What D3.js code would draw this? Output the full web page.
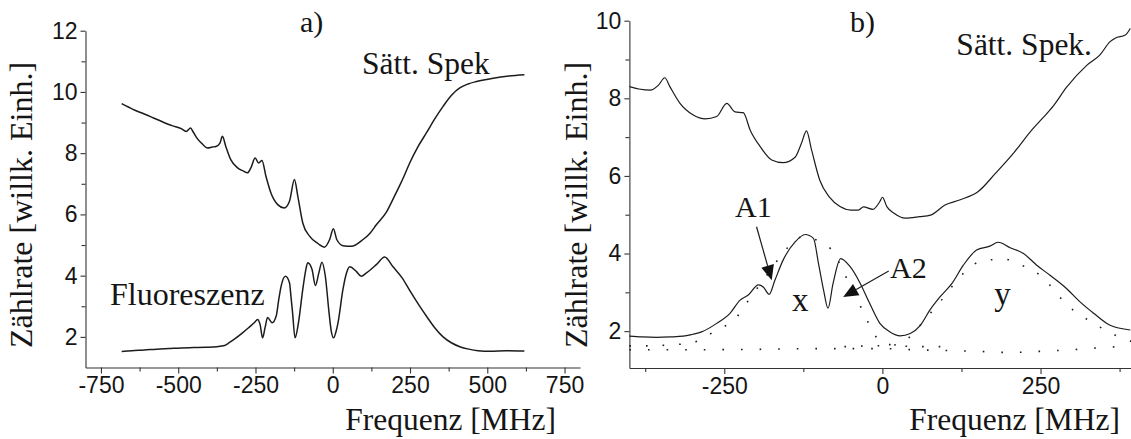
<!DOCTYPE html>
<html><head><meta charset="utf-8">
<script src="https://cdn.jsdelivr.net/npm/d3@7"></script>
<style>
body{margin:0;background:#fff}
svg text{fill:#151515}
.serif{font-family:"Liberation Serif","Times New Roman",serif}
.axis text{font-family:"Liberation Sans",Arial,sans-serif;font-size:23px;fill:#151515}
.axis path,.axis line{stroke:#333;stroke-width:1.1}
</style></head><body>
<svg id="fig" width="1131" height="439"></svg>
<script>
// ---- panel a): saturation spectrum and fluorescence, [MHz, counts] ----
const satA = [[-683,9.62],[-660,9.50],[-640,9.40],[-610,9.28],[-580,9.15],[-550,9.02],[-520,8.90],[-490,8.80],
  [-474,8.71],[-460,8.82],[-452,8.70],[-440,8.50],[-425,8.33],[-405,8.17],[-390,8.20],[-378,8.22],[-365,8.33],
  [-357,8.55],[-346,8.22],[-330,7.79],[-308,7.52],[-290,7.42],[-276,7.36],[-265,7.52],[-251,7.84],[-240,7.68],
  [-229,7.76],[-216,7.24],[-200,6.70],[-178,6.32],[-157,6.21],[-140,6.43],[-124,7.14],[-113,6.59],[-97,5.72],
  [-75,5.29],[-48,5.05],[-27,4.93],[-10,5.18],[2,5.53],[13,5.18],[33,4.98],[60,4.96],[98,5.18],[120,5.38],
  [141,5.66],[174,6.08],[195,6.50],[216,6.93],[232,7.28],[249,7.68],[275,8.20],[303,8.66],[330,9.12],
  [357,9.53],[385,9.90],[411,10.13],[438,10.26],[465,10.34],[519,10.45],[570,10.52],[620,10.56]];
const fluorA = [[-683,1.52],[-650,1.55],[-610,1.57],[-570,1.60],[-530,1.62],[-490,1.64],[-450,1.65],[-410,1.66],
  [-375,1.68],[-350,1.72],[-335,1.81],[-315,1.95],[-291,2.14],[-270,2.32],[-254,2.46],[-243,2.57],[-235,2.40],
  [-227,1.97],[-219,2.30],[-211,2.63],[-196,2.46],[-183,2.68],[-175,3.20],[-167,3.66],[-153,3.98],[-140,3.77],
  [-135,3.30],[-130,2.79],[-122,1.97],[-111,2.46],[-97,3.55],[-88,4.15],[-81,4.42],[-67,4.20],[-56,3.68],
  [-45,4.09],[-35,4.44],[-24,3.98],[-12,2.79],[-5,2.20],[3,1.97],[10,2.15],[17,2.46],[33,3.55],[45,4.10],
  [55,4.29],[76,4.14],[92,3.98],[109,4.09],[141,4.36],[168,4.61],[195,4.29],[225,3.92],[250,3.50],[280,3.02],
  [305,2.65],[330,2.30],[357,2.00],[385,1.80],[411,1.68],[440,1.60],[470,1.55],[510,1.53],[560,1.55],[620,1.54]];

// ---- panel b): zoomed spectra with fitted profiles ----
const satB = [[-400,8.30],[-385,8.24],[-367,8.21],[-354,8.34],[-344,8.53],[-336,8.30],[-320,7.87],[-299,7.57],
  [-280,7.47],[-262,7.53],[-246,7.87],[-233,7.65],[-220,7.63],[-209,7.18],[-193,6.75],[-175,6.41],[-157,6.34],
  [-138,6.48],[-128,6.84],[-120,7.16],[-112,6.67],[-99,5.89],[-84,5.46],[-67,5.21],[-50,5.12],[-38,5.12],
  [-30,5.20],[-15,5.14],[-4,5.34],[0,5.45],[7,5.21],[19,5.03],[36,4.91],[59,4.95],[76,4.99],[99,5.25],
  [122,5.38],[151,5.59],[179,6.07],[208,6.60],[237,7.20],[254,7.50],[270,7.80],[291,8.28],[323,8.85],
  [344,9.12],[360,9.46],[368,9.55],[384,9.63],[392,9.80]];
const fluorB = [[-400,1.87],[-380,1.85],[-357,1.84],[-335,1.85],[-315,1.87],[-300,1.92],[-286,1.98],[-262,2.20],
  [-241,2.46],[-225,2.80],[-212,2.93],[-196,3.19],[-188,3.13],[-179,2.95],[-170,3.31],[-157,3.83],[-138,4.30],
  [-122,4.49],[-109,4.39],[-101,3.74],[-93,3.06],[-86,2.59],[-78,3.23],[-66,3.87],[-51,3.66],[-35,3.23],
  [-20,2.71],[-4,2.20],[12,1.98],[28,1.88],[44,1.94],[60,2.15],[75,2.54],[91,2.88],[110,3.23],[128,3.70],
  [149,4.09],[170,4.19],[183,4.29],[202,4.15],[223,4.00],[244,3.70],[265,3.44],[291,3.10],[312,2.76],
  [334,2.46],[360,2.15],[392,2.03]];
const fitX = [[-400,1.62],[-370,1.62],[-340,1.64],[-315,1.67],[-300,1.70],[-283,1.82],[-267,1.98],[-247,2.15],
  [-230,2.37],[-215,2.72],[-196,3.15],[-180,3.50],[-167,3.80],[-150,4.15],[-128,4.42],[-110,4.38],[-93,4.25],
  [-77,4.03],[-63,3.58],[-48,3.07],[-38,2.75],[-27,2.38],[-14,1.95],[-4,1.75],[10,1.66],[30,1.62],[60,1.60],[100,1.60]];
const fitY = [[-60,1.60],[-20,1.62],[10,1.63],[30,1.68],[54,2.05],[70,2.35],[91,2.75],[110,3.15],[130,3.52],
  [152,3.78],[173,3.84],[195,3.85],[216,3.72],[240,3.55],[255,3.35],[270,3.09],[290,2.70],[312,2.43],
  [336,2.18],[365,1.92],[386,1.77],[400,1.72]];
const baseB = [[-400,1.52],[-300,1.52],[-200,1.53],[-100,1.55],[0,1.55],[50,1.52],[100,1.50],[150,1.48],
  [200,1.45],[250,1.48],[300,1.52],[350,1.58],[400,1.62]];

// tick values
const ticksAx = [-750,-500,-250,0,250,500,750];
const minorAx = [-625,-375,-125,125,375,625];
const ticksAy = [2,4,6,8,10,12];
const minorAy = [3,5,7,9,11];
const ticksBx = [-250,0,250];
const minorBx = [-375,-125,125,375];
const ticksBy = [2,4,6,8,10];
const minorBy = [3,5,7,9];

// annotation arrows in panel b): [from, to] in data units
const arrowsB = [[[-199,4.69],[-175,3.31]], [[10,3.55],[-62,2.88]]];

const svg = d3.select("#fig");

const xA = d3.scaleLinear().domain([-800,800]).range([85.5,580]);
const yA = d3.scaleLinear().domain([1,12]).range([367.5,30.7]);
const xB = d3.scaleLinear().domain([-400,400]).range([629.4,1135.4]);
const yB = d3.scaleLinear().domain([1.05,10]).range([368,20.7]);

function axes(x, y, tx, mx, ty, my){
  const fmt = d => String(d);
  const y0 = y.range()[0], x0 = x.range()[0];
  svg.append("g").attr("class","axis").attr("transform",`translate(0,${y0})`)
    .call(d3.axisBottom(x).tickValues(tx).tickSize(6).tickSizeOuter(0).tickPadding(3.5).tickFormat(fmt));
  svg.append("g").attr("class","axis").attr("transform",`translate(0,${y0})`)
    .call(d3.axisBottom(x).tickValues(mx).tickSize(4).tickFormat(""))
    .call(g=>g.select(".domain").remove());
  svg.append("g").attr("class","axis").attr("transform",`translate(${x0},0)`)
    .call(d3.axisLeft(y).tickValues(ty).tickSize(5).tickSizeOuter(0).tickPadding(3).tickFormat(fmt));
  svg.append("g").attr("class","axis").attr("transform",`translate(${x0},0)`)
    .call(d3.axisLeft(y).tickValues(my).tickSize(4).tickFormat(""))
    .call(g=>g.select(".domain").remove());
}
axes(xA, yA, ticksAx, minorAx, ticksAy, minorAy);
axes(xB, yB, ticksBx, minorBx, ticksBy, minorBy);

function curve(data, x, y, w, dash){
  const line = d3.line().x(d=>x(d[0])).y(d=>y(d[1])).curve(d3.curveMonotoneX);
  const p = svg.append("path").datum(data).attr("d", line)
    .attr("fill","none").attr("stroke","#1c1c1c").attr("stroke-width", w)
    .attr("stroke-linejoin","round");
  if (dash) p.attr("stroke-dasharray", dash);
}
curve(satA, xA, yA, 1.5);
curve(fluorA, xA, yA, 1.5);

// panel b: fitted profiles (dotted) and measured spectra
curve(fitX, xB, yB, 1.6, "1.6 15");
curve(fitY, xB, yB, 1.6, "1.6 15");
curve(baseB, xB, yB, 1.6, "1.6 17");
curve(satB, xB, yB, 1.2);
curve(fluorB, xB, yB, 1.2);

// arrows with filled heads
arrowsB.forEach(([a,b])=>{
  const x1=xB(a[0]), y1=yB(a[1]), x2=xB(b[0]), y2=yB(b[1]);
  const ang=Math.atan2(y2-y1,x2-x1), L=15, H=6.5;
  const bx=x2-L*Math.cos(ang), by=y2-L*Math.sin(ang);
  svg.append("line").attr("x1",x1).attr("y1",y1).attr("x2",bx).attr("y2",by)
    .attr("stroke","#1c1c1c").attr("stroke-width",1.2);
  const px=-Math.sin(ang), py=Math.cos(ang);
  svg.append("path").attr("d",`M${x2},${y2}L${bx+H*px},${by+H*py}L${bx-H*px},${by-H*py}Z`)
    .attr("fill","#111");
});

// labels
function label(t, x, y, size, anchor, rot){
  const el = svg.append("text").attr("class","serif").text(t)
    .attr("font-size", size).attr("text-anchor", anchor||"start");
  if (rot) el.attr("transform",`translate(${x},${y}) rotate(-90)`);
  else el.attr("x",x).attr("y",y);
}
label("a)", 300, 32, 30);
label("Sätt. Spek", 362, 73.5, 31.5);
label("Fluoreszenz", 110, 305, 32);
label("Frequenz [MHz]", 556, 430, 31.5, "end");
label("Zählrate [willk. Einh.]", 32, 205, 32, "middle", true);

label("b)", 850, 32, 30);
label("Sätt. Spek.", 1092, 55, 31.5, "end");
label("Frequenz [MHz]", 1120, 430, 31.5, "end");
label("Zählrate [willk. Einh.]", 587, 205, 32, "middle", true);
label("A1", xB(-233), 216.5, 30);
label("A2", xB(12), 278, 30);
label("x", xB(-130), 311, 33, "middle");
label("y", xB(190), 305, 33, "middle");
</script>
</body></html>
